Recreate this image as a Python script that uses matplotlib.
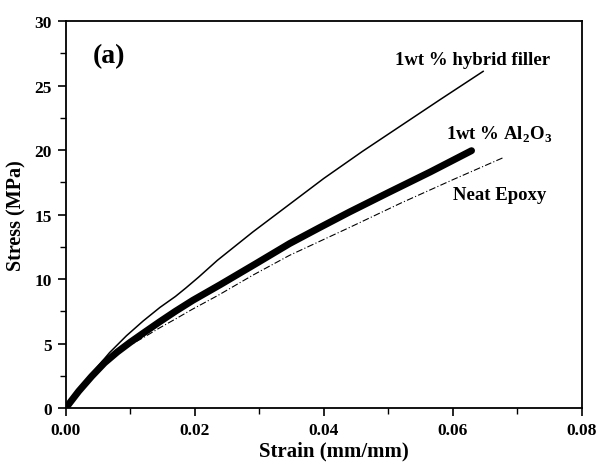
import matplotlib
matplotlib.use("Agg")
import matplotlib.pyplot as plt
from matplotlib.ticker import MultipleLocator

plt.rcParams['font.family'] = ['Liberation Serif', 'DejaVu Serif']
plt.rcParams['mathtext.fontset'] = 'custom'
plt.rcParams['mathtext.rm'] = 'Liberation Serif:bold'
plt.rcParams['mathtext.bf'] = 'Liberation Serif:bold'

# Data
hybrid_strain = [0.0, 0.002, 0.004, 0.0068, 0.0094, 0.012, 0.0146, 0.017, 0.0186, 0.0206,
                 0.0235, 0.029, 0.0347, 0.040, 0.046, 0.052, 0.058, 0.0647]
hybrid_stress = [0.0, 1.3, 2.65, 4.3, 5.6, 6.75, 7.8, 8.65, 9.3, 10.15,
                 11.45, 13.65, 15.8, 17.8, 19.9, 21.9, 23.9, 26.1]

al2o3_strain = [0.0, 0.002, 0.004, 0.006, 0.008, 0.010, 0.012, 0.0146, 0.017, 0.0197,
                0.0239, 0.0295, 0.0347, 0.0394, 0.044, 0.050, 0.0565, 0.0629]
al2o3_stress = [0.0, 1.3, 2.45, 3.5, 4.35, 5.1, 5.8, 6.7, 7.5, 8.35,
                9.55, 11.2, 12.75, 14.0, 15.2, 16.7, 18.3, 19.95]

neat_strain = [0.0, 0.002, 0.004, 0.006, 0.008, 0.010, 0.012, 0.0145, 0.017, 0.0196,
               0.0237, 0.029, 0.0347, 0.044, 0.052, 0.060, 0.068]
neat_stress = [0.0, 1.3, 2.45, 3.45, 4.25, 4.9, 5.45, 6.2, 6.9, 7.65,
               8.76, 10.3, 11.84, 14.0, 15.9, 17.7, 19.45]

x_ticks = [0.0, 0.02, 0.04, 0.06, 0.08]
x_ticklabels = ['0.00', '0.02', '0.04', '0.06', '0.08']
y_ticks = [0, 5, 10, 15, 20, 25, 30]
y_ticklabels = ['0', '5', '10', '15', '20', '25', '30']

fig = plt.figure(figsize=(5.98, 4.64), dpi=100)
ax = fig.add_axes([0.110, 0.1185, 0.863, 0.834])

ax.plot(hybrid_strain, hybrid_stress, color='black', lw=1.1, solid_joinstyle='round')
ax.plot(al2o3_strain, al2o3_stress, color='black', lw=5.0,
        solid_capstyle='round', solid_joinstyle='round')
ax.plot(neat_strain, neat_stress, color='black', lw=0.8, linestyle=(0, (6, 2, 1, 2)))

ax.set_xlim(0, 0.08)
ax.set_ylim(0, 30)
ax.set_xticks(x_ticks)
ax.set_xticklabels(x_ticklabels, fontweight='bold')
ax.set_yticks(y_ticks)
ax.set_yticklabels(y_ticklabels, fontweight='bold')
ax.xaxis.set_minor_locator(MultipleLocator(0.01))
ax.yaxis.set_minor_locator(MultipleLocator(2.5))
ax.tick_params(which='major', direction='out', length=6, width=1.2, labelsize=12.5, pad=4)
ax.tick_params(which='minor', direction='out', length=4, width=1.0)
for s in ax.spines.values():
    s.set_linewidth(1.3)

ax.set_xlabel('Strain (mm/mm)', fontsize=15, fontweight='bold')
ax.xaxis.set_label_coords(0.52, -0.085)
ax.set_ylabel('Stress (MPa)', fontsize=14.5, fontweight='bold', labelpad=6)

ax.text(0.0067, 27.35, '(a)', fontsize=20, fontweight='bold', ha='center', va='center')
ax.text(0.0630, 26.7, '1wt % hybrid filler', fontsize=13.5, fontweight='bold',
        ha='center', va='baseline')
ax.text(0.0672, 20.84, r'1wt % Al$_{\mathbf{2}}$O$_{\mathbf{3}}$', fontsize=13.5,
        fontweight='bold', ha='center', va='baseline')
ax.text(0.0673, 16.17, 'Neat Epoxy', fontsize=13.5, fontweight='bold',
        ha='center', va='baseline')

fig.savefig('out.png', dpi=100)
